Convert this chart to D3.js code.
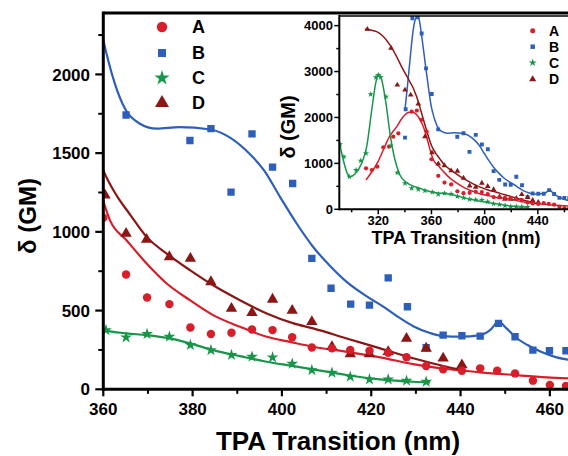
<!DOCTYPE html>
<html><head><meta charset="utf-8">
<script src="https://cdn.jsdelivr.net/npm/d3@7"></script>
<style>
body{margin:0;background:#fff}
svg{display:block}
text{font-family:"Liberation Sans",Arial,Helvetica,sans-serif;font-weight:bold;fill:#000}
</style>
</head><body>
<svg id="chart" width="568" height="456"></svg>
<script>
// ---------- data ----------
const seriesNames = ["A", "B", "C", "D"];
const seriesColors = ["#d81e2a", "#2d5fba", "#17964a", "#8b1616"];

// measured points (nm, GM)
const ptsA_x = [310.8, 315.1, 319.3, 323.8, 328.1, 331.3, 335.1, 345.1, 349.0, 352.5, 356.4, 360.0, 365.1, 369.8, 374.8, 379.5, 384.1, 388.7, 393.3, 397.9, 402.3, 406.7, 411.2, 415.3, 419.6, 423.8, 427.9, 432.3, 436.1, 440.3, 444.4, 448.2, 452.2, 456.2, 460.0, 463.6];
const ptsA_y = [893, 856, 928, 1351, 1364, 1582, 1656, 2126, 2150, 1950, 1690, 1090, 729, 583, 541, 393, 351, 359, 380, 376, 330, 266, 260, 249, 245, 232, 203, 148, 127, 118, 133, 118, 101, 55, 27, 21];

const ptsB_x = [340.1, 340.6, 345.6, 349.6, 352.6, 355.9, 360.2, 365.1, 379.4, 384.1, 388.6, 393.3, 397.9, 402.4, 406.7, 411.0, 415.4, 419.6, 423.8, 428.1, 432.3, 436.1, 440.3, 444.4, 448.5, 452.2, 456.2, 459.9, 463.6];
const ptsB_y = [1560, 2180, 4160, 4180, 3830, 3070, 2510, 1742, 1580, 1656, 1252, 1622, 1411, 1307, 832, 642, 541, 535, 708, 524, 264, 344, 340, 338, 419, 334, 249, 245, 245];

const ptsC_x = [291.2, 294.2, 298.2, 303.3, 306.8, 310.8, 314.3, 318.3, 320.0, 321.8, 325.8, 329.6, 334.3, 340.1, 345.1, 350.1, 355.1, 360.6, 365.1, 369.8, 374.8, 379.5, 384.1, 388.7, 393.3, 397.9, 402.3, 406.7, 411.2, 415.3, 419.6, 423.8, 427.9, 432.3];
const ptsC_y = [1416, 1146, 710, 856, 1059, 1220, 2505, 2876, 2926, 2876, 2453, 1386, 797, 566, 457, 436, 405, 376, 330, 351, 334, 281, 249, 218, 207, 203, 162, 122, 105, 80, 63, 63, 55, 48];

const ptsD_x = [311.8, 329.6, 334.3, 340.1, 344.4, 350.1, 355.1, 360.4, 365.1, 369.7, 374.8, 379.5, 384.1, 388.7, 393.3, 397.9, 402.3, 406.7, 411.2, 415.3, 419.6, 423.8, 427.9, 432.3, 436.1, 440.3];
const ptsD_y = [3922, 3508, 2708, 2599, 2490, 2294, 1582, 1232, 989, 951, 841, 831, 682, 513, 486, 571, 500, 429, 270, 224, 224, 238, 323, 260, 197, 154];

// fitted curves (nm, GM)
const fitA_x = [310.8, 316, 320, 323.8, 328, 333.9, 338, 342.6, 346, 348.9, 351.5, 353.9, 356.5, 358.9, 361.5, 365.2, 369.7, 374.2, 379.4, 384.6, 390.6, 396.6, 402, 407, 414.5, 422, 429.4, 437, 444.4, 452, 459.3, 465];
const fitA_y = [638, 850, 1050, 1292, 1560, 1800, 1990, 2110, 2120, 2060, 1950, 1800, 1560, 1300, 1073, 947, 799, 672, 566, 471, 397, 334, 300, 270, 238, 203, 160, 129, 108, 91, 76, 68];

const fitB_x = [340, 342, 344, 346, 348, 349.5, 351, 353, 355, 357.5, 360, 361, 362.6, 365, 368, 372, 377, 384, 388, 392, 396, 399.6, 403.3, 407, 411, 414.5, 419, 422.7, 426, 429.4, 433, 436, 440, 444.4, 446.6, 448.5, 450.3, 452.2, 455, 458, 461.5, 465];
const fitB_y = [2150, 2700, 3300, 3850, 4150, 4210, 4100, 3700, 3250, 2700, 2220, 2100, 1940, 1775, 1690, 1655, 1665, 1650, 1605, 1517, 1390, 1221, 1053, 904, 777, 682, 590, 525, 460, 401, 359, 338, 334, 344, 376, 429, 387, 334, 281, 238, 203, 185];

const fitC_x = [290.7, 293.7, 296.7, 298.7, 302.5, 307.5, 311.3, 315.1, 318.3, 320, 322.6, 325.8, 328.8, 332.6, 336.3, 341.4, 348.9, 355, 360, 365.2, 369.7, 374.9, 379.4, 384.6, 390.6, 396.6, 402, 407, 414.5, 422, 429.4, 433.2];
const fitC_y = [1473, 1074, 784, 710, 769, 1002, 1364, 2163, 2780, 2948, 2817, 2309, 1656, 1074, 747, 580, 480, 420, 376, 355, 344, 323, 292, 249, 211, 175, 150, 127, 91, 63, 48, 44];

const fitD_x = [310, 318.8, 328.8, 338.8, 348.9, 352, 356, 360, 363, 366, 369.7, 374.2, 379.4, 384.6, 390.6, 396.6, 402.6, 407, 414.5, 422, 429.4, 436.9, 440.3];
const fitD_y = [3922, 3869, 3580, 3035, 2453, 2150, 1750, 1390, 1230, 1110, 968, 862, 757, 661, 566, 482, 419, 387, 323, 260, 197, 143, 122];

// ticks
const mainXTicks = [360, 380, 400, 420, 440, 460];
const mainXMinor = [370, 390, 410, 430, 450];
const mainYTicks = [0, 500, 1000, 1500, 2000];
const mainYMinor = [250, 750, 1250, 1750, 2250];
const insetXTicks = [320, 360, 400, 440];
const insetXMinor = [300, 340, 380, 420, 460];
const insetYTicks = [0, 1000, 2000, 3000, 4000];
const insetYMinor = [500, 1500, 2500, 3500];

// ---------- assemble ----------
const zipPts = (xs, ys) => xs.map((x, i) => ({x, y: ys[i]}));
const series = [
  {name: "A", color: seriesColors[0], sym: d3.symbolCircle, pts: zipPts(ptsA_x, ptsA_y), fit: zipPts(fitA_x, fitA_y), sMain: 56, sLeg: 85, sIn: 14, sInLeg: 20},
  {name: "B", color: seriesColors[1], sym: d3.symbolSquare, pts: zipPts(ptsB_x, ptsB_y), fit: zipPts(fitB_x, fitB_y), sMain: 54, sLeg: 64, sIn: 15, sInLeg: 20},
  {name: "C", color: seriesColors[2], sym: d3.symbolStar, pts: zipPts(ptsC_x, ptsC_y), fit: zipPts(fitC_x, fitC_y), sMain: 44, sLeg: 70, sIn: 12, sInLeg: 20},
  {name: "D", color: seriesColors[3], sym: d3.symbolTriangle, pts: zipPts(ptsD_x, ptsD_y), fit: zipPts(fitD_x, fitD_y), sMain: 56, sLeg: 85, sIn: 14, sInLeg: 22}
];
const drawOrder = [1, 3, 0, 2];

const svg = d3.select("#chart");

// ---------- main chart ----------
const M = {l: 103.3, r: 572.2, t: 13, b: 389.3};
const x = d3.scaleLinear().domain([360, 465]).range([M.l, M.r]);
const y = d3.scaleLinear().domain([0, 2390]).range([M.b, M.t]);

const defs = svg.append("defs");
defs.append("clipPath").attr("id", "mainClip").append("rect")
  .attr("x", M.l).attr("y", M.t).attr("width", M.r - M.l).attr("height", M.b - M.t);

const mainG = svg.append("g").attr("clip-path", "url(#mainClip)");
const lineMain = d3.line().x(d => x(d.x)).y(d => y(d.y)).curve(d3.curveMonotoneX);
series.forEach(s => {
  mainG.append("path").datum(s.fit.filter(d => d.x >= 355))
    .attr("d", lineMain).attr("fill", "none").attr("stroke", s.color).attr("stroke-width", 2.2);
});
drawOrder.forEach(i => {
  const s = series[i];
  mainG.selectAll(null).data(s.pts.filter(d => d.x >= 359)).join("path")
    .attr("transform", d => `translate(${x(d.x)},${y(d.y)})`)
    .attr("d", d3.symbol(s.sym, s.sMain)).attr("fill", s.color);
});

// main axes
const axG = svg.append("g");
axG.selectAll(null).data(mainXTicks).join("line")
  .attr("x1", d => x(d)).attr("x2", d => x(d)).attr("y1", M.b).attr("y2", M.b + 7)
  .attr("stroke", "#000").attr("stroke-width", 2.2);
axG.selectAll(null).data(mainXMinor).join("line")
  .attr("x1", d => x(d)).attr("x2", d => x(d)).attr("y1", M.b).attr("y2", M.b + 4.5)
  .attr("stroke", "#000").attr("stroke-width", 2);
axG.selectAll(null).data(mainYTicks).join("line")
  .attr("x1", M.l - 8).attr("x2", M.l).attr("y1", d => y(d)).attr("y2", d => y(d))
  .attr("stroke", "#000").attr("stroke-width", 2.2);
axG.selectAll(null).data(mainYMinor).join("line")
  .attr("x1", M.l - 5).attr("x2", M.l).attr("y1", d => y(d)).attr("y2", d => y(d))
  .attr("stroke", "#000").attr("stroke-width", 2);
axG.append("line").attr("x1", M.l).attr("x2", M.r).attr("y1", M.b).attr("y2", M.b).attr("stroke", "#000").attr("stroke-width", 3);
axG.append("line").attr("x1", M.l).attr("x2", M.l).attr("y1", M.t - 1.5).attr("y2", M.b + 1.5).attr("stroke", "#000").attr("stroke-width", 3);
axG.append("line").attr("x1", M.l).attr("x2", M.r).attr("y1", M.t).attr("y2", M.t).attr("stroke", "#000").attr("stroke-width", 3);

axG.selectAll(null).data(mainXTicks).join("text")
  .attr("x", d => x(d)).attr("y", 415).attr("text-anchor", "middle")
  .style("font-size", "17px").text(d => d);
axG.selectAll(null).data(mainYTicks).join("text")
  .attr("x", 90).attr("y", d => y(d)).attr("dy", "0.36em").attr("text-anchor", "end")
  .style("font-size", "17px").text(d => d);

svg.append("text").attr("x", 338).attr("y", 450).attr("text-anchor", "middle")
  .style("font-size", "26px").text("TPA Transition (nm)");
svg.append("text").attr("transform", "translate(27,216) rotate(-90)")
  .attr("text-anchor", "middle").attr("dy", "0.36em")
  .style("font-size", "24px").text("δ (GM)");

// main legend
const legY = [27, 53, 78, 103];
series.forEach((s, i) => {
  svg.append("path").attr("transform", `translate(162,${legY[i]})`)
    .attr("d", d3.symbol(s.sym, s.sLeg)).attr("fill", s.color);
  svg.append("text").attr("x", 192).attr("y", legY[i]).attr("dy", "0.36em")
    .style("font-size", "18px").text(s.name);
});

// ---------- inset ----------
const I = {l: 339.3, r: 571.1, t: 16, b: 209.3};
const xi = d3.scaleLinear().domain([290.7, 465]).range([I.l, I.r]);
const yi = d3.scaleLinear().domain([0, 4210]).range([I.b, I.t]);

svg.append("rect").attr("x", I.l).attr("y", I.t).attr("width", 568 - I.l).attr("height", I.b - I.t).attr("fill", "#fff");
defs.append("clipPath").attr("id", "insetClip").append("rect")
  .attr("x", I.l).attr("y", I.t).attr("width", I.r - I.l).attr("height", I.b - I.t);
const inG = svg.append("g").attr("clip-path", "url(#insetClip)");
const lineIn = d3.line().x(d => xi(d.x)).y(d => yi(d.y)).curve(d3.curveMonotoneX);
series.forEach(s => {
  inG.append("path").datum(s.fit).attr("d", lineIn).attr("fill", "none")
    .attr("stroke", s.color).attr("stroke-width", 1.5);
});
drawOrder.forEach(i => {
  const s = series[i];
  inG.selectAll(null).data(s.pts).join("path")
    .attr("transform", d => `translate(${xi(d.x)},${yi(d.y)})`)
    .attr("d", d3.symbol(s.sym, s.sIn)).attr("fill", s.color);
});

const iax = svg.append("g");
iax.selectAll(null).data(insetXTicks).join("line")
  .attr("x1", d => xi(d)).attr("x2", d => xi(d)).attr("y1", I.b).attr("y2", I.b + 5)
  .attr("stroke", "#000").attr("stroke-width", 1.5);
iax.selectAll(null).data(insetXMinor).join("line")
  .attr("x1", d => xi(d)).attr("x2", d => xi(d)).attr("y1", I.b).attr("y2", I.b + 3)
  .attr("stroke", "#000").attr("stroke-width", 1.5);
iax.selectAll(null).data(insetYTicks).join("line")
  .attr("x1", I.l - 5).attr("x2", I.l).attr("y1", d => yi(d)).attr("y2", d => yi(d))
  .attr("stroke", "#000").attr("stroke-width", 1.5);
iax.selectAll(null).data(insetYMinor).join("line")
  .attr("x1", I.l - 3).attr("x2", I.l).attr("y1", d => yi(d)).attr("y2", d => yi(d))
  .attr("stroke", "#000").attr("stroke-width", 1.5);
iax.append("line").attr("x1", I.l).attr("x2", I.r).attr("y1", I.b).attr("y2", I.b).attr("stroke", "#000").attr("stroke-width", 2);
iax.append("line").attr("x1", I.l).attr("x2", I.l).attr("y1", I.t - 1).attr("y2", I.b + 1).attr("stroke", "#000").attr("stroke-width", 2);
iax.append("line").attr("x1", I.l).attr("x2", I.r).attr("y1", I.t).attr("y2", I.t).attr("stroke", "#000").attr("stroke-width", 1.6);

iax.selectAll(null).data(insetXTicks).join("text")
  .attr("x", d => xi(d)).attr("y", 225).attr("text-anchor", "middle")
  .style("font-size", "13px").text(d => d);
iax.selectAll(null).data(insetYTicks).join("text")
  .attr("x", 333).attr("y", d => yi(d)).attr("dy", "0.36em").attr("text-anchor", "end")
  .style("font-size", "13px").text(d => d);

svg.append("text").attr("x", 456).attr("y", 244).attr("text-anchor", "middle")
  .style("font-size", "18px").text("TPA Transition (nm)");
svg.append("text").attr("transform", "translate(288,127) rotate(-90)")
  .attr("text-anchor", "middle").attr("dy", "0.36em")
  .style("font-size", "20px").text("δ (GM)");

const iLegY = [30.7, 46.7, 62.7, 79.3];
series.forEach((s, i) => {
  svg.append("path").attr("transform", `translate(532.7,${iLegY[i]})`)
    .attr("d", d3.symbol(s.sym, s.sInLeg)).attr("fill", s.color);
  svg.append("text").attr("x", 549).attr("y", iLegY[i]).attr("dy", "0.36em")
    .style("font-size", "14px").text(s.name);
});
</script>
</body></html>
